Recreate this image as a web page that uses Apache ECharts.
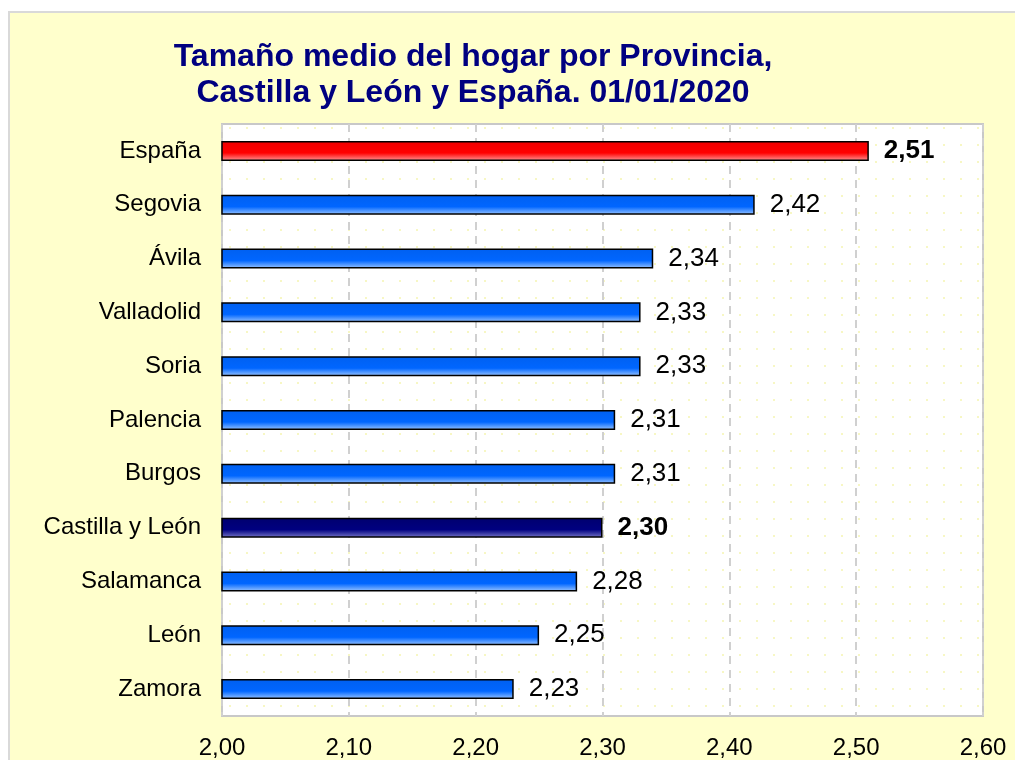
<!DOCTYPE html>
<html>
<head>
<meta charset="utf-8">
<script src="https://cdn.jsdelivr.net/npm/echarts@6/dist/echarts.min.js"></script>
<style>
  html, body { margin: 0; padding: 0; background: #ffffff; }
  #chart { width: 1015px; height: 760px; }
</style>
</head>
<body>
<div id="chart"></div>
<script>
// datos
var provincias = ['España', 'Segovia', 'Ávila', 'Valladolid', 'Soria', 'Palencia', 'Burgos', 'Castilla y León', 'Salamanca', 'León', 'Zamora'];
var tamano = [2.51, 2.42, 2.34, 2.33, 2.33, 2.31, 2.31, 2.30, 2.28, 2.25, 2.23];
var destacados = ['España', 'Castilla y León'];

function grad(c1, c2, c3) {
  return new echarts.graphic.LinearGradient(0, 0, 0, 1, [
    { offset: 0, color: c1 },
    { offset: 0.6, color: c2 },
    { offset: 1, color: c3 }
  ]);
}

// trama de puntos del fondo del area de trazado
var dots = document.createElement('canvas');
dots.width = 17; dots.height = 17;
var dctx = dots.getContext('2d');
dctx.fillStyle = '#ffffff';
dctx.fillRect(0, 0, 17, 17);
dctx.fillStyle = '#f7f7c4';
dctx.fillRect(8, 8, 2, 2);

var chart = echarts.init(document.getElementById('chart'));

var barData = [];
for (var i = 0; i < provincias.length; i++) {
  var color = grad('#0060f0', '#0066ff', '#9cc6ff');
  if (provincias[i] == 'España') color = grad('#f00000', '#ff0000', '#ff9a9a');
  if (provincias[i] == 'Castilla y León') color = grad('#00006e', '#000080', '#7878c8');
  var bold = destacados.indexOf(provincias[i]) >= 0;
  barData.push({
    value: tamano[i],
    itemStyle: { color: color },
    label: { fontWeight: bold ? 'bold' : 'normal' }
  });
}

var option = {
  backgroundColor: '#ffffff',
  animation: false,
  graphic: [{
    type: 'rect',
    z: -10,
    silent: true,
    shape: { x: 9, y: 12, width: 1015, height: 760 },
    style: { fill: '#ffffcc', stroke: '#d9d9d9', lineWidth: 2 }
  }, {
    type: 'rect',
    z: -9,
    silent: true,
    shape: { x: 222, y: 124, width: 761, height: 593 },
    style: { fill: { image: dots, repeat: 'repeat' } }
  }],
  title: {
    text: 'Tamaño medio del hogar por Provincia,\nCastilla y León y España. 01/01/2020',
    left: 468,
    textAlign: 'center',
    top: 34,
    textStyle: {
      color: '#000080',
      fontFamily: 'Liberation Sans, Arial',
      fontSize: 32,
      fontWeight: 'bold',
      lineHeight: 36
    }
  },
  grid: {
    left: 222,
    right: 32,
    top: 124,
    bottom: 43,
    show: true,
    backgroundColor: 'transparent',
    borderColor: '#c8c8c8',
    borderWidth: 2
  },
  xAxis: {
    type: 'value',
    min: 2.0,
    max: 2.6,
    interval: 0.1,
    axisLine: { show: false },
    axisTick: { show: false },
    axisLabel: {
      margin: 20,
      color: '#000000',
      fontFamily: 'Liberation Sans, Arial',
      fontSize: 24,
      formatter: function (v) { return v.toFixed(2).replace('.', ','); }
    },
    splitLine: {
      lineStyle: { color: '#d0d0d0', type: [8, 6], width: 2 }
    }
  },
  yAxis: {
    type: 'category',
    inverse: true,
    data: provincias,
    axisLine: { show: false },
    axisTick: { show: false },
    axisLabel: {
      margin: 21,
      color: '#000000',
      fontFamily: 'Liberation Sans, Arial',
      fontSize: 24
    }
  },
  series: [{
    type: 'bar',
    data: barData,
    barWidth: 20,
    itemStyle: { borderColor: '#000000', borderWidth: 1.5 },
    label: {
      show: true,
      position: 'right',
      distance: 15,
      color: '#000000',
      fontFamily: 'Liberation Sans, Arial',
      fontSize: 26,
      formatter: function (p) { return p.value.toFixed(2).replace('.', ','); }
    }
  }]
};

chart.setOption(option);
</script>
</body>
</html>
